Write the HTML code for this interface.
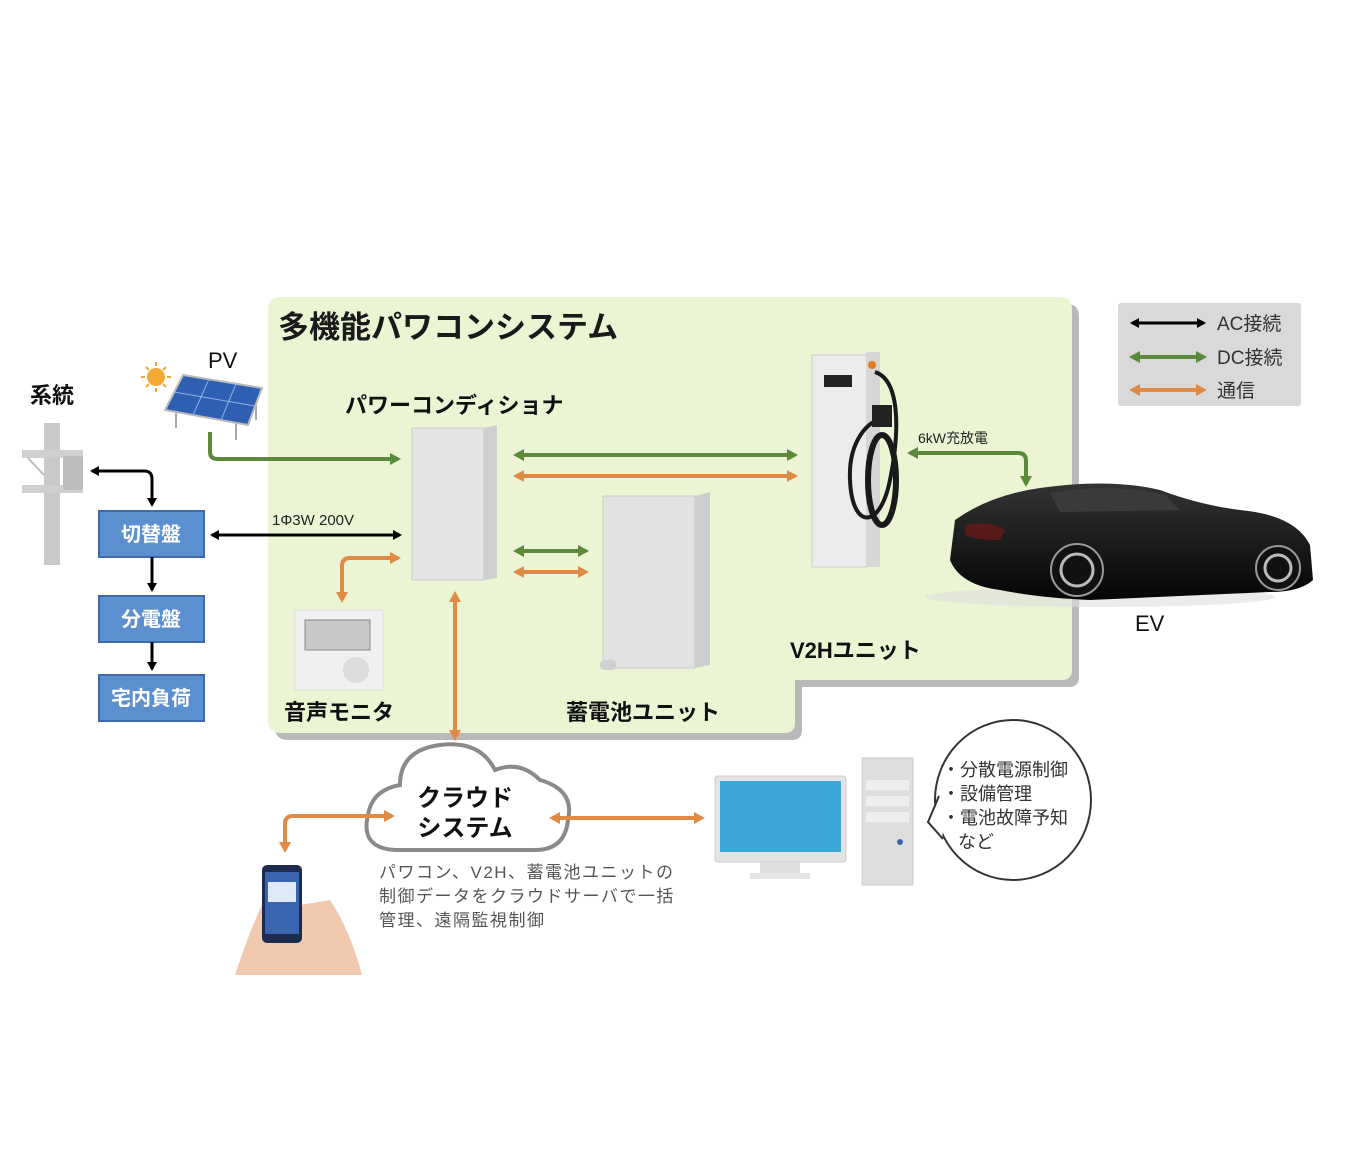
<!DOCTYPE html>
<html><head><meta charset="utf-8"><style>
html,body{margin:0;padding:0;background:#fff;}
svg{display:block;font-family:"Liberation Sans","Noto Sans CJK JP",sans-serif;}
.b{font-weight:bold;}
</style></head><body>
<svg width="1356" height="1176" viewBox="0 0 1356 1176" xmlns="http://www.w3.org/2000/svg">
<defs>
<marker id="ak" markerWidth="10" markerHeight="10" refX="7" refY="5" orient="auto-start-reverse" markerUnits="userSpaceOnUse"><path d="M0,0 L9,5 L0,10 Z" fill="#000"/></marker>
<marker id="ag" markerWidth="12" markerHeight="12" refX="8" refY="6" orient="auto-start-reverse" markerUnits="userSpaceOnUse"><path d="M0,0 L11,6 L0,12 Z" fill="#5a8a3a"/></marker>
<marker id="ao" markerWidth="12" markerHeight="12" refX="8" refY="6" orient="auto-start-reverse" markerUnits="userSpaceOnUse"><path d="M0,0 L11,6 L0,12 Z" fill="#e08a45"/></marker>
<linearGradient id="car" x1="0" y1="0" x2="0" y2="1"><stop offset="0" stop-color="#333"/><stop offset="1" stop-color="#050505"/></linearGradient>
</defs>
<!-- panel -->
<path transform="translate(7,7)" d="M268,310 Q268,297 281,297 L1060,297 Q1072,297 1072,310 L1072,670 Q1072,680 1062,680 L795,680 L795,723 Q795,733 785,733 L281,733 Q268,733 268,720 Z" fill="#b9b9b9"/>
<path d="M268,310 Q268,297 281,297 L1060,297 Q1072,297 1072,310 L1072,670 Q1072,680 1062,680 L795,680 L795,723 Q795,733 785,733 L281,733 Q268,733 268,720 Z" fill="#ebf5d4"/>
<text x="278" y="338" font-size="31" class="b" fill="#1a1a1a">多機能パワコンシステム</text>

<!-- legend -->
<rect x="1118" y="303" width="183" height="103" rx="3" fill="#d9d9d9"/>
<line x1="1132" y1="323" x2="1204" y2="323" stroke="#000" stroke-width="3" marker-start="url(#ak)" marker-end="url(#ak)"/>
<line x1="1132" y1="357" x2="1204" y2="357" stroke="#5a8a3a" stroke-width="4" marker-start="url(#ag)" marker-end="url(#ag)"/>
<line x1="1132" y1="390" x2="1204" y2="390" stroke="#e08a45" stroke-width="4" marker-start="url(#ao)" marker-end="url(#ao)"/>
<text x="1217" y="330" font-size="19" fill="#333">AC接続</text>
<text x="1217" y="364" font-size="19" fill="#333">DC接続</text>
<text x="1217" y="397" font-size="19" fill="#333">通信</text>

<!-- PV -->
<text x="208" y="368" font-size="22" fill="#111">PV</text>
<circle cx="156" cy="377" r="9" fill="#f3a936"/>
<g stroke="#f3a936" stroke-width="2"><line x1="156" y1="362" x2="156" y2="366"/><line x1="156" y1="388" x2="156" y2="392"/><line x1="141" y1="377" x2="145" y2="377"/><line x1="167" y1="377" x2="171" y2="377"/><line x1="146" y1="367" x2="149" y2="370"/><line x1="163" y1="384" x2="166" y2="387"/><line x1="166" y1="367" x2="163" y2="370"/><line x1="146" y1="387" x2="149" y2="384"/></g>
<line x1="176" y1="410" x2="176" y2="428" stroke="#aaa" stroke-width="2"/><line x1="236" y1="415" x2="236" y2="440" stroke="#aaa" stroke-width="2"/><line x1="256" y1="395" x2="256" y2="420" stroke="#aaa" stroke-width="2"/>
<polygon points="183,375 262,388 248,425 165,410" fill="#2f5fb3" stroke="#bbb" stroke-width="2"/>
<g stroke="#8fb0e0" stroke-width="1"><line x1="209" y1="379" x2="193" y2="415"/><line x1="236" y1="384" x2="221" y2="420"/><line x1="174" y1="392" x2="255" y2="406"/></g>

<!-- grid -->
<text x="30" y="403" font-size="22" class="b" fill="#111">系統</text>
<rect x="44" y="423" width="16" height="142" fill="#c9c9c9"/>
<rect x="22" y="450" width="61" height="8" fill="#cfcfcf"/>
<rect x="22" y="485" width="61" height="8" fill="#cfcfcf"/>
<rect x="63" y="456" width="20" height="34" rx="3" fill="#bdbdbd"/>
<line x1="28" y1="458" x2="44" y2="475" stroke="#bbb" stroke-width="2"/>

<g font-size="20" fill="#fff" text-anchor="middle" class="b">
<rect x="99" y="511" width="105" height="46" fill="#5b8fd0" stroke="#3e6aa5" stroke-width="2"/>
<text x="151" y="541">切替盤</text>
<rect x="99" y="596" width="105" height="46" fill="#5b8fd0" stroke="#3e6aa5" stroke-width="2"/>
<text x="151" y="626">分電盤</text>
<rect x="99" y="675" width="105" height="46" fill="#5b8fd0" stroke="#3e6aa5" stroke-width="2"/>
<text x="151" y="705">宅内負荷</text>
</g>
<path d="M92,471 L144,471 Q152,471 152,479 L152,505" fill="none" stroke="#000" stroke-width="3" marker-start="url(#ak)" marker-end="url(#ak)"/>
<line x1="152" y1="557" x2="152" y2="590" stroke="#000" stroke-width="3" marker-end="url(#ak)"/>
<line x1="152" y1="642" x2="152" y2="669" stroke="#000" stroke-width="3" marker-end="url(#ak)"/>
<text x="272" y="525" font-size="15" fill="#222">1Φ3W 200V</text>
<line x1="212" y1="535" x2="400" y2="535" stroke="#000" stroke-width="3" marker-start="url(#ak)" marker-end="url(#ak)"/>

<!-- PCS -->
<text x="345" y="413" font-size="22" class="b" fill="#111">パワーコンディショナ</text>
<path d="M210,432 L210,452 Q210,459 218,459 L398,459" fill="none" stroke="#5a8a3a" stroke-width="4" marker-end="url(#ag)"/>
<rect x="412" y="428" width="72" height="152" fill="#e4e4e4" stroke="#ccc"/>
<polygon points="484,428 497,425 497,578 484,580" fill="#cfcfcf"/>
<line x1="516" y1="455" x2="795" y2="455" stroke="#5a8a3a" stroke-width="4" marker-start="url(#ag)" marker-end="url(#ag)"/>
<line x1="516" y1="476" x2="795" y2="476" stroke="#e08a45" stroke-width="4" marker-start="url(#ao)" marker-end="url(#ao)"/>
<line x1="516" y1="551" x2="586" y2="551" stroke="#5a8a3a" stroke-width="4" marker-start="url(#ag)" marker-end="url(#ag)"/>
<line x1="516" y1="572" x2="586" y2="572" stroke="#e08a45" stroke-width="4" marker-start="url(#ao)" marker-end="url(#ao)"/>

<!-- battery -->
<rect x="603" y="496" width="92" height="172" fill="#e2e2e2" stroke="#ccc"/>
<polygon points="695,496 710,492 710,665 695,668" fill="#cdcdcd"/>
<rect x="600" y="660" width="16" height="10" rx="4" fill="#d0d0d0"/>
<text x="566" y="720" font-size="22" class="b" fill="#111">蓄電池ユニット</text>

<!-- monitor -->
<path d="M342,600 L342,566 Q342,558 350,558 L398,558" fill="none" stroke="#e08a45" stroke-width="4" marker-start="url(#ao)" marker-end="url(#ao)"/>
<rect x="295" y="610" width="88" height="80" fill="#f0f0f0" stroke="#ddd"/>
<rect x="305" y="620" width="65" height="30" fill="#c8c8c8" stroke="#888"/>
<circle cx="356" cy="670" r="13" fill="#dcdcdc"/>
<text x="284" y="720" font-size="22" class="b" fill="#111">音声モニタ</text>

<!-- V2H -->
<rect x="812" y="355" width="55" height="212" fill="#ececec" stroke="#ccc"/>
<rect x="866" y="352" width="14" height="215" fill="#d6d6d6"/>
<rect x="824" y="375" width="28" height="12" fill="#222"/>
<circle cx="872" cy="365" r="4" fill="#e07a20"/>
<path d="M875,372 C900,380 900,430 890,480 C880,530 852,530 850,480 C848,440 870,420 880,420" fill="none" stroke="#1a1a1a" stroke-width="4"/>
<ellipse cx="882" cy="480" rx="14" ry="45" fill="none" stroke="#1a1a1a" stroke-width="6"/>
<rect x="872" y="405" width="20" height="22" fill="#222"/>
<text x="790" y="658" font-size="22" class="b" fill="#111">V2Hユニット</text>
<text x="918" y="443" font-size="14" fill="#222">6kW充放電</text>
<path d="M910,453 L1018,453 Q1026,453 1026,461 L1026,484" fill="none" stroke="#5a8a3a" stroke-width="4" marker-start="url(#ag)" marker-end="url(#ag)"/>

<!-- car -->
<ellipse cx="1100" cy="597" rx="175" ry="10" fill="#ddd" opacity="0.6"/>
<path d="M955,520 Q990,495 1040,488 Q1110,478 1160,490 Q1200,505 1240,510 Q1295,515 1310,545 L1313,580 Q1300,592 1270,592 L1090,600 Q1040,598 1000,590 Q960,585 950,560 Z" fill="url(#car)"/>
<path d="M1050,493 Q1110,482 1165,495 L1180,510 L1060,512 Z" fill="#3a3a3a"/>
<path d="M965,525 Q990,520 1005,530 L1000,540 Q975,540 965,535 Z" fill="#5a1a1a"/>
<circle cx="1077" cy="570" r="26" fill="#111" stroke="#999" stroke-width="2"/><circle cx="1077" cy="570" r="16" fill="none" stroke="#bbb" stroke-width="3"/>
<circle cx="1278" cy="568" r="22" fill="#111" stroke="#999" stroke-width="2"/><circle cx="1278" cy="568" r="13" fill="none" stroke="#bbb" stroke-width="3"/>
<text x="1135" y="631" font-size="22" fill="#111">EV</text>

<!-- cloud link -->
<line x1="455" y1="594" x2="455" y2="738" stroke="#e08a45" stroke-width="4" marker-start="url(#ao)" marker-end="url(#ao)"/>
<path d="M395,850 Q360,848 368,815 Q372,790 400,785 Q400,750 440,745 Q480,740 495,770 Q520,760 540,780 Q575,790 568,820 Q565,850 535,850 Z" fill="#fff" stroke="#8a8a8a" stroke-width="4"/>
<text x="465" y="806" font-size="24" class="b" text-anchor="middle" fill="#111">クラウド</text>
<text x="465" y="836" font-size="24" class="b" text-anchor="middle" fill="#111">システム</text>
<path d="M392,816 L293,816 Q285,816 285,824 L285,850" fill="none" stroke="#e08a45" stroke-width="4" marker-start="url(#ao)" marker-end="url(#ao)"/>
<line x1="552" y1="818" x2="702" y2="818" stroke="#e08a45" stroke-width="4" marker-start="url(#ao)" marker-end="url(#ao)"/>
<g font-size="17" fill="#555" letter-spacing="1.5">
<text x="379" y="878">パワコン、V2H、蓄電池ユニットの</text>
<text x="379" y="902">制御データをクラウドサーバで一括</text>
<text x="379" y="926">管理、遠隔監視制御</text>
</g>

<!-- phone -->
<path d="M235,975 Q250,930 262,905 L300,905 L330,900 Q350,930 362,975 Z" fill="#f1c9ae"/>
<rect x="262" y="865" width="40" height="78" rx="5" fill="#1d2b4f"/>
<rect x="265" y="872" width="34" height="62" fill="#3a66b0"/>
<rect x="268" y="882" width="28" height="20" fill="#dfe8f5"/>

<!-- PC -->
<rect x="715" y="776" width="131" height="86" rx="3" fill="#e3e3e3" stroke="#ccc"/>
<rect x="720" y="781" width="121" height="71" fill="#3aa7d8"/>
<rect x="760" y="862" width="40" height="12" fill="#ddd"/>
<rect x="750" y="873" width="60" height="6" fill="#e5e5e5"/>
<rect x="862" y="758" width="51" height="127" fill="#dedede" stroke="#ccc"/>
<g fill="#eee"><rect x="866" y="780" width="43" height="10"/><rect x="866" y="796" width="43" height="10"/><rect x="866" y="812" width="43" height="10"/></g>
<circle cx="900" cy="842" r="3" fill="#3a66b0"/>

<!-- bubble -->
<ellipse cx="1013" cy="800" rx="78" ry="80" fill="#fff" stroke="#333" stroke-width="2"/>
<polygon points="940,798 928,822 942,838 945,818" fill="#fff"/>
<polyline points="939,796 928,822 943,839" fill="none" stroke="#333" stroke-width="2"/>
<g font-size="18" fill="#333">
<text x="942" y="776">・分散電源制御</text>
<text x="942" y="800">・設備管理</text>
<text x="942" y="824">・電池故障予知</text>
<text x="958" y="848">など</text>
</g>
</svg>
</body></html>
